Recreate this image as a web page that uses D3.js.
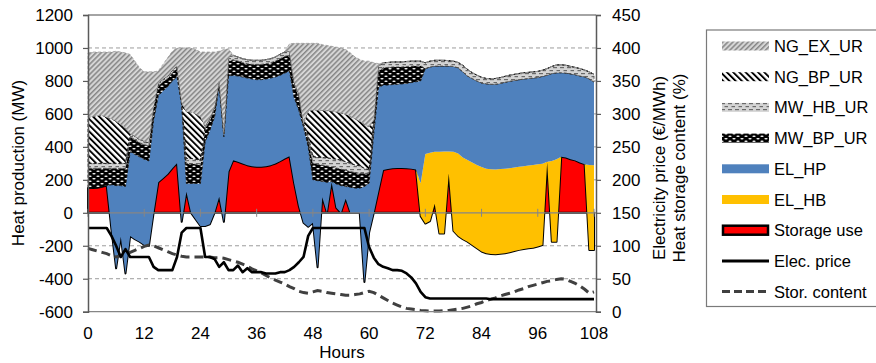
<!DOCTYPE html>
<html>
<head>
<meta charset="utf-8">
<script src="https://cdn.jsdelivr.net/npm/d3@7"></script>
<style>
  html, body { margin: 0; padding: 0; background: #fff; }
  svg text { font-family: "Liberation Sans", Arial, sans-serif; fill: #000; }
</style>
</head>
<body>
<svg id="chart" width="876" height="363"></svg>
<script>
// ---- data: hourly heat production by unit (MW), left axis ----
const hours = d3.range(0, 109);

const storageUse = [
  150,150,152,158,165,-100,-337,-145,-368,-140,
  -160,-175,-195,-200,0,185,210,235,270,300,
  -55,127,0,-40,-80,-80,-70,0,97,-55,
  250,319,309,299,289,282,279,279,282,289,
  299,313,329,343,180,40,-60,-85,-60,-330,
  95,0,185,30,0,85,0,0,0,-420,
  -120,0,130,259,265,270,272,272,270,268,
  263,-20,-65,-50,55,-125,-125,238,-110,-140,
  -160,-175,-195,-215,-235,-245,-250,-251,-248,-245,
  -240,-232,-225,-220,-215,-212,-205,-196,305,-176,
  -176,340,335,325,318,305,295,-226,-226
];
const elHB = [
  0,0,0,0,0,0,0,0,0,0,
  0,0,0,0,0,0,0,0,0,0,
  0,0,0,0,0,0,0,0,0,0,
  0,0,0,0,0,0,0,0,0,0,
  0,0,0,0,0,0,0,0,0,0,
  0,0,0,0,0,0,0,0,0,0,
  0,0,0,0,0,0,0,0,0,0,
  0,200,421,415,315,495,497,134,480,500,
  495,495,500,505,513,513,514,514,513,513,
  511,507,504,503,502,502,499,494,5,491,
  501,0,0,0,0,0,0,516,515
];
const elHP = [
  0,0,0,0,0,270,502,310,528,510,
  515,515,520,515,560,525,530,530,530,525,
  705,51,178,218,258,510,570,580,673,516,
  580,515,521,525,529,530,529,529,530,529,
  525,521,519,517,520,582,580,485,260,525,
  95,185,5,145,165,75,155,150,150,580,
  300,480,630,516,510,508,508,510,515,522,
  532,620,519,520,520,520,518,518,518,520,
  520,510,510,510,510,515,516,517,520,524,
  527,528,528,529,528,528,527,530,525,530,
  524,510,513,518,520,525,530,522,505
];
const mwBP = [
  120,120,118,112,105,100,105,105,110,90,
  90,85,90,90,70,60,55,50,50,50,
  10,121,121,116,111,80,60,50,20,14,
  90,95,91,87,87,89,93,93,93,93,
  97,101,102,96,80,81,20,50,100,100,
  100,100,90,97,100,98,95,95,90,80,
  60,70,100,105,107,107,105,103,103,100,
  95,92,0,0,0,0,0,0,0,0,
  0,0,0,0,0,0,0,0,0,0,
  0,0,0,0,0,0,0,0,0,0,
  0,0,0,0,0,0,0,0,0
];
const mwHB = [
  30,30,30,30,30,30,30,30,30,20,
  20,20,20,20,15,15,15,15,15,15,
  5,31,31,31,30,15,15,10,10,5,
  25,26,24,24,24,24,24,24,24,24,
  24,27,26,24,10,20,0,20,40,43,
  45,48,50,53,55,52,50,45,45,30,
  20,15,30,30,30,30,30,30,30,30,
  30,28,35,35,35,35,35,33,32,32,
  40,40,35,35,34,32,33,35,35,36,
  37,37,38,38,37,37,37,37,40,43,
  48,48,47,45,44,45,41,43,46
];
const ngBP = [
  280,285,290,290,280,270,255,235,215,0,
  0,0,0,0,0,0,0,0,0,0,
  0,283,283,275,263,0,0,0,0,0,
  0,0,0,0,0,0,0,0,0,0,
  0,0,0,0,0,0,0,150,283,284,
  286,287,288,287,285,288,285,280,270,268,
  261,0,0,0,0,0,0,0,0,0,
  0,0,0,0,0,0,0,0,0,0,
  0,0,0,0,0,0,0,0,0,0,
  0,0,0,0,0,0,0,0,0,0,
  0,0,0,0,0,0,0,0,0
];
const ngEX = [
  390,390,385,385,395,405,425,440,455,480,
  455,435,420,430,210,75,90,110,115,110,
  335,387,387,390,393,450,400,335,180,510,
  50,0,0,0,0,0,0,0,0,0,
  0,0,0,45,238,305,488,408,405,406,
  399,395,392,393,395,392,385,375,375,382,
  399,345,15,0,0,0,0,0,0,0,
  0,0,0,0,0,0,0,0,0,0,
  0,0,0,0,0,0,0,0,0,0,
  0,0,0,0,0,0,0,0,0,0,
  0,0,0,0,0,0,0,0,0
];

// ---- data: right axis lines ----
const elecPrice = [
  127,127,127,127,127,115,100,83,95,83,
  83,83,83,83,68,63,63,63,63,83,
  120,127,127,127,127,83,83,80,68,75,
  63,63,70,60,66,60,60,60,58,58,
  58,60,60,63,68,75,83,115,127,127,
  127,127,127,127,127,127,127,127,127,127,
  98,82,72,68,66,63,63,62,58,52,
  43,30,22,20,20,20,20,20,20,20,
  20,20,20,20,20,20,19,19,19,19,
  19,19,19,19,19,19,19,19,19,19,
  19,19,19,19,19,19,19,19,19
];
const storContent = [
  96,94,92,90,88,85,83,85,87,90,
  93,96,99,101,100,97,94,91,88,86,
  84,83,83,83,83,83,83,82,82,81,
  79,77,75,72,69,65,62,59,55,51,
  48,45,42,38,35,31,29,28,30,32,
  31,29,28,27,26,25,25,26,27,29,
  31,29,25,21,17,13,10,7,5,4,
  3,2,1.5,1,1,1,1.5,2,3,4,
  5,7,9,12,14,17,19,21,24,26,
  28,30,33,35,38,40,42,44,46,47,
  49,50,49,46,43,39,34,28,30
];

// axis ticks
const hourTicks = [0, 12, 24, 36, 48, 60, 72, 84, 96, 108];
const leftTicks = [-600, -400, -200, 0, 200, 400, 600, 800, 1000, 1200];
const rightTicks = [0, 50, 100, 150, 200, 250, 300, 350, 400, 450];

// stacking order, bottom to top
const seriesKeys = ["storage", "elHB", "elHP", "mwBP", "mwHB", "ngBP", "ngEX"];
const seriesValues = { storage: storageUse, elHB, elHP, mwBP, mwHB, ngBP, ngEX };

const table = hours.map((h, i) => {
  const row = { hour: h };
  seriesKeys.forEach(k => { row[k] = seriesValues[k][i]; });
  return row;
});

// ---- layout ----
const svg = d3.select("#chart");
const P = { left: 88, right: 596, top: 15, bottom: 311.7 };
const x = d3.scaleLinear().domain([0, 108]).range([88, 594]);
const yL = d3.scaleLinear().domain([-600, 1200]).range([P.bottom, P.top]);
const yR = d3.scaleLinear().domain([0, 450]).range([P.bottom, P.top]);

// ---- fill patterns ----
const defs = svg.append("defs");
function stripes(id, size, angle, bg, fg, w) {
  const p = defs.append("pattern").attr("id", id)
    .attr("patternUnits", "userSpaceOnUse")
    .attr("width", size).attr("height", size)
    .attr("patternTransform", `rotate(${angle})`);
  p.append("rect").attr("width", size).attr("height", size).attr("fill", bg);
  p.append("rect").attr("x", 0).attr("y", 0).attr("width", w).attr("height", size).attr("fill", fg);
}
stripes("pNgEx", 3.6, 45, "#d6d6d6", "#868686", 1.5);
stripes("pNgBP", 4.4, -45, "#ffffff", "#000000", 1.9);

const pHB = defs.append("pattern").attr("id", "pMwHB")
  .attr("patternUnits", "userSpaceOnUse").attr("width", 7).attr("height", 6);
pHB.append("rect").attr("width", 7).attr("height", 6).attr("fill", "#d4d4d4");
pHB.append("rect").attr("x", 0).attr("y", 1).attr("width", 4).attr("height", 1.2).attr("fill", "#6a6a6a");
pHB.append("rect").attr("x", 3.5).attr("y", 4).attr("width", 3.5).attr("height", 1.2).attr("fill", "#6a6a6a");

const pBP = defs.append("pattern").attr("id", "pMwBP")
  .attr("patternUnits", "userSpaceOnUse").attr("width", 8).attr("height", 5);
pBP.append("rect").attr("width", 8).attr("height", 5).attr("fill", "#000");
pBP.append("ellipse").attr("cx", 2).attr("cy", 1.2).attr("rx", 1.7).attr("ry", 0.75).attr("fill", "#fff");
pBP.append("ellipse").attr("cx", 6).attr("cy", 3.7).attr("rx", 1.7).attr("ry", 0.75).attr("fill", "#fff");

const styles = {
  storage: { fill: "#ff0000", stroke: "#000", sw: 2, dash: null },
  elHB:    { fill: "#ffc000", stroke: "none", sw: 0, dash: null },
  elHP:    { fill: "#4f81bd", stroke: "none", sw: 0, dash: null },
  mwBP:    { fill: "url(#pMwBP)", stroke: "#111", sw: 0.9, dash: "3,2" },
  mwHB:    { fill: "url(#pMwHB)", stroke: "#555", sw: 0.9, dash: "3,2" },
  ngBP:    { fill: "url(#pNgBP)", stroke: "#111", sw: 0.9, dash: "3,2" },
  ngEX:    { fill: "url(#pNgEx)", stroke: "#9a9a9a", sw: 0.8, dash: "3,2" }
};

// ---- gridlines (under the areas) ----
svg.append("g").selectAll("line")
  .data(leftTicks.filter(v => v !== 0 && v !== -600 && v !== 1200))
  .join("line")
  .attr("x1", P.left).attr("x2", P.right)
  .attr("y1", d => yL(d)).attr("y2", d => yL(d))
  .attr("stroke", "#9c9c9c").attr("stroke-width", 1).attr("stroke-dasharray", "4,3");

// ---- stacked areas ----
const stack = d3.stack().keys(seriesKeys)
  .order(d3.stackOrderNone).offset(d3.stackOffsetNone);
const layers = stack(table);
const area = d3.area()
  .x(d => x(d.data.hour))
  .y0(d => yL(d[0]))
  .y1(d => yL(d[1]));

svg.append("g").selectAll("path")
  .data(layers)
  .join("path")
  .attr("d", area)
  .attr("fill", d => styles[d.key].fill)
  .attr("stroke", d => styles[d.key].stroke)
  .attr("stroke-width", d => styles[d.key].sw)
  .attr("stroke-dasharray", d => styles[d.key].dash)
  .attr("stroke-linejoin", "round");

// ---- category axis crossing at 0 MW ----
svg.append("line")
  .attr("x1", P.left).attr("x2", P.right)
  .attr("y1", yL(0)).attr("y2", yL(0))
  .attr("stroke", "#868686").attr("stroke-width", 1.2);
svg.append("g").selectAll("line").data(hourTicks).join("line")
  .attr("x1", d => x(d)).attr("x2", d => x(d))
  .attr("y1", yL(0) - 4).attr("y2", yL(0) + 4)
  .attr("stroke", "#868686").attr("stroke-width", 1);

// ---- price and storage lines (right axis) ----
const lineR = vals => d3.line().x((d, i) => x(hours[i])).y(d => yR(d))(vals);
svg.append("path").attr("d", lineR(storContent))
  .attr("fill", "none").attr("stroke", "#404040").attr("stroke-width", 3)
  .attr("stroke-dasharray", "9,5");
svg.append("path").attr("d", lineR(elecPrice))
  .attr("fill", "none").attr("stroke", "#000").attr("stroke-width", 2.6)
  .attr("stroke-linejoin", "round");

// ---- frame and axes ----
svg.append("line").attr("x1", P.left).attr("x2", P.right).attr("y1", P.top).attr("y2", P.top)
  .attr("stroke", "#868686").attr("stroke-width", 1.3);
svg.append("line").attr("x1", P.left).attr("x2", P.right).attr("y1", P.bottom).attr("y2", P.bottom)
  .attr("stroke", "#868686").attr("stroke-width", 1.3);

const plain = d => String(d);
const axL = d3.axisLeft(yL).tickValues(leftTicks).tickFormat(plain).tickSize(5).tickPadding(10);
const gL = svg.append("g").attr("transform", `translate(${P.left},0)`).call(axL);
const axR = d3.axisRight(yR).tickValues(rightTicks).tickFormat(plain).tickSize(5).tickPadding(11);
const gR = svg.append("g").attr("transform", `translate(${P.right},0)`).call(axR);
[gL, gR].forEach(g => {
  g.select(".domain").attr("stroke", "#5a5a5a").attr("stroke-width", 1.5);
  g.selectAll(".tick line").attr("stroke", "#5a5a5a").attr("stroke-width", 1.2);
  g.selectAll(".tick text").attr("font-size", 17).attr("font-family", '"Liberation Sans", Arial, sans-serif').attr("fill", "#000");
});

// hour labels
svg.append("g").selectAll("text").data(hourTicks).join("text")
  .attr("x", d => x(d)).attr("y", 333.5)
  .attr("text-anchor", "middle").attr("dominant-baseline", "central")
  .attr("font-size", 17).text(d => d);

// axis titles
svg.append("text").attr("transform", "translate(18,163) rotate(-90)")
  .attr("text-anchor", "middle").attr("dominant-baseline", "central")
  .attr("font-size", 17).text("Heat production (MW)");
svg.append("text").attr("x", 342).attr("y", 352.5)
  .attr("text-anchor", "middle").attr("dominant-baseline", "central")
  .attr("font-size", 17).text("Hours");
svg.append("text").attr("transform", "translate(659,168) rotate(-90)")
  .attr("text-anchor", "middle").attr("dominant-baseline", "central")
  .attr("font-size", 17).text("Electricity price (€/MWh)");
svg.append("text").attr("transform", "translate(679,168) rotate(-90)")
  .attr("text-anchor", "middle").attr("dominant-baseline", "central")
  .attr("font-size", 17).text("Heat storage content (%)");

// ---- legend ----
const legendNames = ["NG_EX_UR", "NG_BP_UR", "MW_HB_UR", "MW_BP_UR", "EL_HP", "EL_HB",
                     "Storage use", "Elec. price", "Stor. content"];
const legendKeys = ["ngEX", "ngBP", "mwHB", "mwBP", "elHP", "elHB", "storage", "price", "content"];
svg.append("rect").attr("x", 706.5).attr("y", 30).attr("width", 200).attr("height", 276.5)
  .attr("fill", "#fff").attr("stroke", "#7a7a7a").attr("stroke-width", 1.2);

const lg = svg.append("g");
legendKeys.forEach((k, i) => {
  const cy = 46 + i * 30.7;
  if (k === "price") {
    lg.append("line").attr("x1", 722).attr("x2", 769).attr("y1", cy).attr("y2", cy)
      .attr("stroke", "#000").attr("stroke-width", 3);
  } else if (k === "content") {
    lg.append("line").attr("x1", 722).attr("x2", 769).attr("y1", cy).attr("y2", cy)
      .attr("stroke", "#404040").attr("stroke-width", 3).attr("stroke-dasharray", "8,4");
  } else if (k === "storage") {
    lg.append("rect").attr("x", 723).attr("y", cy - 4.5).attr("width", 45).attr("height", 9)
      .attr("fill", "#ff0000").attr("stroke", "#000").attr("stroke-width", 2.5);
  } else {
    lg.append("rect").attr("x", 722).attr("y", cy - 4.5).attr("width", 47).attr("height", 9)
      .attr("fill", styles[k].fill);
  }
  lg.append("text").attr("x", 774).attr("y", cy)
    .attr("dominant-baseline", "central").attr("font-size", 16.5)
    .text(legendNames[i]);
});
</script>
</body>
</html>
